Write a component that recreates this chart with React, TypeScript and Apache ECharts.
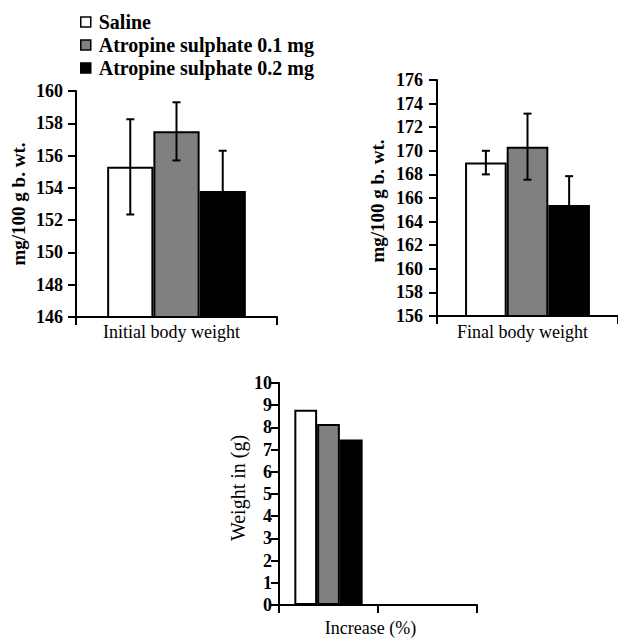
import React, { useEffect, useRef } from 'react';
import * as echarts from 'echarts';

const seriesNames = ['Saline', 'Atropine sulphate 0.1 mg', 'Atropine sulphate 0.2 mg'];
const barColors = ['#ffffff', '#808080', '#000000'];

const initialCategories = ['Initial body weight'];
const initialMeans = [155.3, 157.5, 153.8];
const initialErrors = [2.95, 1.8, 2.5];
const initialAxis = [146, 160, 2];

const finalCategories = ['Final body weight'];
const finalMeans = [169.0, 170.35, 165.4];
const finalErrors = [1.0, 2.8, 2.45];
const finalAxis = [156, 176, 2];

const increaseCategories = ['Increase (%)', ''];
const increaseMeans = [8.8, 8.15, 7.45];
const increaseAxis = [0, 10, 1];

const FONT = 'Liberation Serif';
const BAR_FRACTION = 0.23;

const axisLineStyle = { color: '#000', width: 2 };

function errorSeries(gridIdx: number, means: number[], errors: number[]) {
  return {
    type: 'custom',
    xAxisIndex: gridIdx,
    yAxisIndex: gridIdx,
    z: 10,
    silent: true,
    data: means.map((m, i) => [0, m, errors[i], i]),
    encode: { x: 0, y: 1 },
    renderItem: (params: any, api: any) => {
      const cat = api.value(0);
      const mean = api.value(1);
      const err = api.value(2);
      const idx = api.value(3);
      const band = api.size([1, 0])[0];
      const bw = band * BAR_FRACTION;
      const c = api.coord([cat, mean]);
      const x = c[0] + (idx - 1) * bw;
      const top = api.coord([cat, mean + err])[1];
      const bot = api.coord([cat, mean - err])[1];
      const style = { stroke: '#000', lineWidth: 2 };
      const cap = 4;
      return {
        type: 'group',
        children: [
          { type: 'line', shape: { x1: x, y1: top, x2: x, y2: bot }, style },
          { type: 'line', shape: { x1: x - cap, y1: top, x2: x + cap, y2: top }, style },
          { type: 'line', shape: { x1: x - cap, y1: bot, x2: x + cap, y2: bot }, style },
        ],
      };
    },
  };
}

function barSeries(gridIdx: number, means: number[]) {
  return means.map((v, i) => ({
    type: 'bar',
    name: seriesNames[i],
    xAxisIndex: gridIdx,
    yAxisIndex: gridIdx,
    data: [v],
    barWidth: BAR_FRACTION * 100 + '%',
    barGap: '0%',
    itemStyle: { color: barColors[i], borderColor: '#000', borderWidth: 2 },
  }));
}

function yAxisDef(gridIdx: number, range: number[], name: string, nameGap: number, nameStyle: any, labelMargin: number) {
  return {
    type: 'value',
    gridIndex: gridIdx,
    min: range[0],
    max: range[1],
    interval: range[2],
    name,
    nameLocation: 'middle',
    nameGap,
    nameTextStyle: { fontFamily: FONT, color: '#000', ...nameStyle },
    axisLine: { show: true, lineStyle: axisLineStyle },
    axisTick: { show: true, length: 8, lineStyle: axisLineStyle },
    axisLabel: { fontFamily: FONT, fontSize: 18, fontWeight: 'bold', color: '#000', margin: labelMargin },
    splitLine: { show: false },
  };
}

function xAxisDef(gridIdx: number, cats: string[], labelExtra: any) {
  return {
    type: 'category',
    gridIndex: gridIdx,
    data: cats,
    axisLine: { show: true, lineStyle: axisLineStyle },
    axisTick: { show: true, length: 8, lineStyle: axisLineStyle },
    axisLabel: { fontFamily: FONT, fontSize: 18, color: '#000', interval: 0, ...labelExtra },
    splitLine: { show: false },
  };
}

export default function App() {
  const ref = useRef<HTMLDivElement>(null);
  useEffect(() => {
    document.body.style.margin = '0';
    if (!ref.current) return;
    const chart = echarts.init(ref.current, null, { renderer: 'svg' });
    chart.setOption({
      animation: false,
      backgroundColor: '#fff',
      legend: {
        orient: 'vertical',
        left: 75,
        top: 7,
        itemWidth: 10,
        itemHeight: 10,
        itemGap: 3,
        icon: 'rect',
        selectedMode: false,
        data: seriesNames,
        itemStyle: { borderColor: '#000', borderWidth: 1.5 },
        textStyle: { fontFamily: FONT, fontSize: 20, fontWeight: 'bold', color: '#000', lineHeight: 20, padding: [0, 0, 0, 3] },
      },
      grid: [
        { left: 76, top: 91, width: 201, height: 226 },
        { left: 437, top: 80, right: -4, height: 236 },
        { left: 279, top: 383, width: 198, height: 222 },
      ],
      xAxis: [
        xAxisDef(0, initialCategories, { margin: 6, padding: [0, 10, 0, 0] }),
        xAxisDef(1, finalCategories, { margin: 7, padding: [0, 10, 0, 0] }),
        xAxisDef(2, increaseCategories, { margin: 14, padding: [0, 0, 0, 84] }),
      ],
      yAxis: [
        yAxisDef(0, initialAxis, 'mg/100 g b. wt.', 48, { fontSize: 19, fontWeight: 'bold' }, 13),
        yAxisDef(1, finalAxis, 'mg/100 g b. wt.', 50, { fontSize: 19, fontWeight: 'bold', padding: [0, 6, 0, 0] }, 14),
        yAxisDef(2, increaseAxis, 'Weight in (g)', 31, { fontSize: 20, padding: [0, 0, 0, 12] }, 7),
      ],
      series: [
        ...barSeries(0, initialMeans),
        ...barSeries(1, finalMeans),
        ...barSeries(2, increaseMeans),
        errorSeries(0, initialMeans, initialErrors),
        errorSeries(1, finalMeans, finalErrors),
      ],
    });
    return () => chart.dispose();
  }, []);
  return <div ref={ref} style={{ width: 618, height: 639 }} />;
}
